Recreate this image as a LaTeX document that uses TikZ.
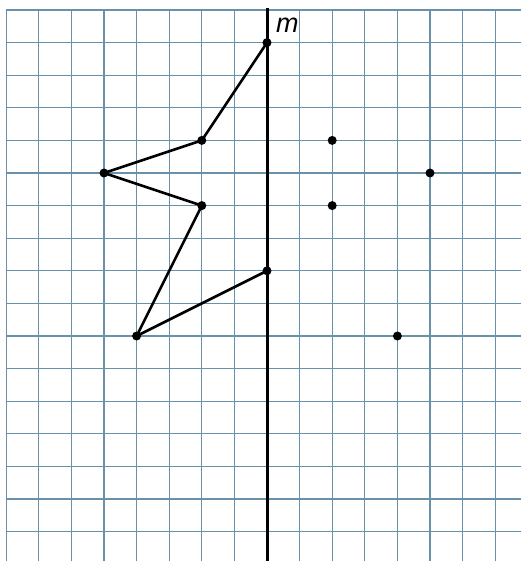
\documentclass[tikz,border=0pt]{standalone}
\usepackage{fontspec}
\setmainfont{Liberation Sans}
\begin{document}
\begin{tikzpicture}[x=1pt,y=-1pt,
  gridline/.style={draw={rgb,255:red,105;green,145;blue,170},line width=1.2pt},
  dot/.style={circle,fill=black,inner sep=0pt,minimum size=9pt},
  edge/.style={draw=black,line width=2.6pt,line join=round}]
\useasboundingbox (0,0) rectangle (521,561);
\fill[white] (0,0) rectangle (521,561);
\def\cs{32.6}
% vertical grid lines
\foreach \i in {-8,...,7}{
  \draw[gridline] ({267+\cs*\i},10) -- ({267+\cs*\i},561);
}
% horizontal grid lines
\foreach \j in {0,...,16}{
  \draw[gridline] (6.2,{10+\cs*\j}) -- (521,{10+\cs*\j});
}
% line m
\coordinate (mtop) at (267,8);
\coordinate (mbot) at (267,561);
\draw[line width=3pt] (mtop) -- (mbot);
\node[anchor=west,inner sep=0pt,font=\itshape\fontsize{27}{27}\selectfont] (mlabel) at (276,25) {m};
% vertices
\node[dot] (a) at (267,{10+\cs*1}) {};
\node[dot] (b) at ({267-2*\cs},{10+\cs*4}) {};
\node[dot] (c) at ({267-5*\cs},{10+\cs*5}) {};
\node[dot] (d) at ({267-2*\cs},{10+\cs*6}) {};
\node[dot] (e) at ({267-4*\cs},{10+\cs*10}) {};
\node[dot] (f) at (267,{10+\cs*8}) {};
\draw[edge] (a.center) -- (b.center) -- (c.center) -- (d.center) -- (e.center) -- (f.center);
% right dots
\node[dot] (p1) at ({267+2*\cs},{10+\cs*4}) {};
\node[dot] (p2) at ({267+5*\cs},{10+\cs*5}) {};
\node[dot] (p3) at ({267+2*\cs},{10+\cs*6}) {};
\node[dot] (p4) at ({267+4*\cs},{10+\cs*10}) {};
\end{tikzpicture}
\end{document}
